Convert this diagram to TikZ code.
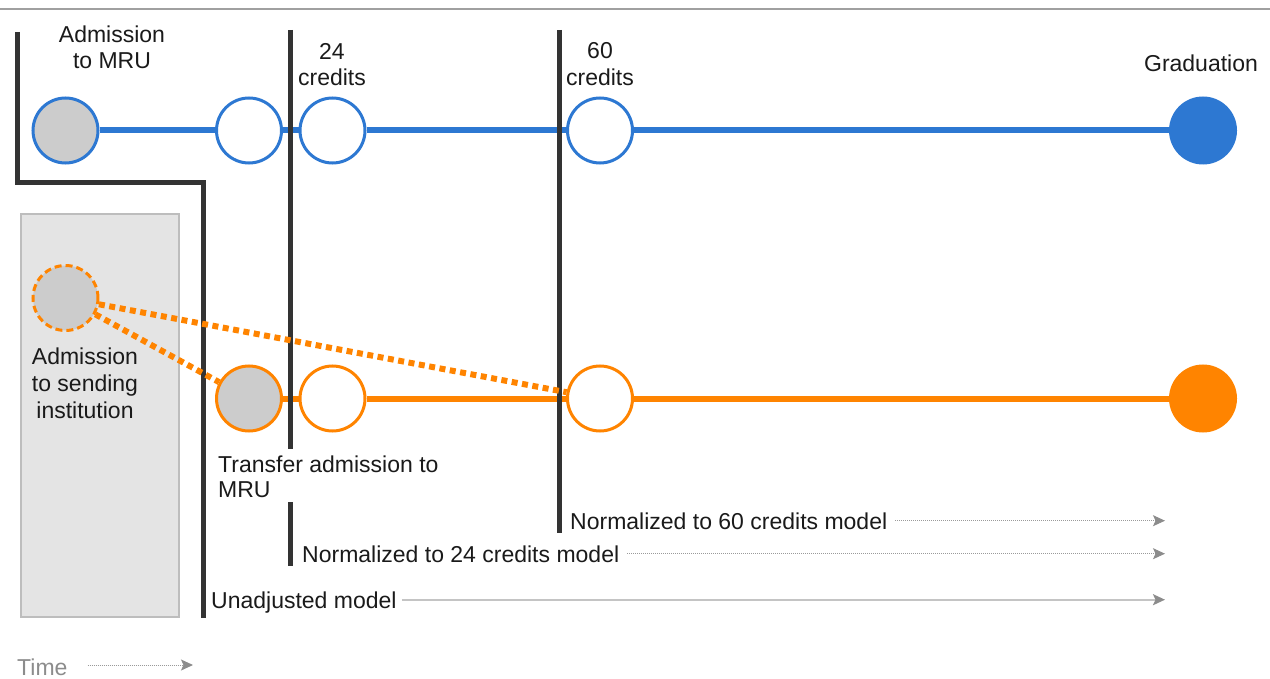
\documentclass[tikz,border=0pt]{standalone}
\usepackage{fontspec}
\setmainfont{Liberation Sans}
\usetikzlibrary{arrows.meta}
\definecolor{mblue}{HTML}{2D78D2}
\definecolor{morange}{HTML}{FF8400}
\definecolor{cgray}{HTML}{CCCCCC}
\definecolor{boxgray}{HTML}{E4E4E4}
\definecolor{boxedge}{HTML}{BDBDBD}
\definecolor{dark}{HTML}{333333}
\definecolor{txt}{HTML}{1A1A1A}
\definecolor{arrgray}{HTML}{8C8C8C}
\definecolor{dotgray}{HTML}{9A9A9A}
\definecolor{solgray}{HTML}{C4C4C4}
\definecolor{topline}{HTML}{A0A0A0}
\begin{document}
\begin{tikzpicture}[x=1pt,y=-1pt,
  lbl/.style={font=\fontsize{23}{26}\selectfont, text=txt, inner sep=0pt},
  circ/.style={circle, minimum size=65pt, inner sep=0pt, line width=3pt},
  bcirc/.style={circ, draw=mblue, fill=white},
  ocirc/.style={circ, draw=morange, fill=white},
  bline/.style={draw=mblue, line width=6pt},
  oline/.style={draw=morange, line width=6pt},
  odots/.style={draw=morange, line width=6pt, dash pattern=on 6pt off 4.5pt},
  wall/.style={draw=dark, line width=5pt, line join=miter},
  tip/.style={-{Stealth[length=12pt,width=11pt,inset=2.5pt,color=arrgray]}},
  dotarrow/.style={tip, draw=dotgray, line width=1pt, dash pattern=on 1pt off 1pt},
  solarrow/.style={tip, draw=solgray, line width=2pt}]
\useasboundingbox (0,0) rectangle (1270,679);
% top rule
\draw[topline, line width=1.5pt] (0,9) -- (1270,9);
% sending institution box
\draw[fill=boxgray, draw=boxedge, line width=2pt] (21,214) rectangle (179,617);
% blue track nodes
\node[circ, draw=mblue, fill=cgray] (b0) at (65.5,130.5) {};
\node[bcirc] (b1) at (249,130.5) {};
\node[bcirc] (b2) at (332.5,130.5) {};
\node[bcirc] (b60) at (600,130.5) {};
\node[circ, draw=mblue, fill=mblue] (bg) at (1203,130.5) {};
% orange track nodes
\node[circ, draw=morange, fill=cgray, dash pattern=on 7pt off 4pt] (o0) at (65.5,298) {};
\node[circ, draw=morange, fill=cgray] (o1) at (249,398.5) {};
\node[ocirc] (o2) at (332.5,398.5) {};
\node[ocirc] (o60) at (600,398.5) {};
\node[circ, draw=morange, fill=morange] (og) at (1203,398.5) {};
% tracks
\draw[bline] (b0) -- (b1);
\draw[bline] (b1) -- (b2);
\draw[bline] (b2) -- (b60);
\draw[bline] (b60) -- (bg);
\draw[oline] (o1) -- (o2);
\draw[oline] (o2) -- (o60);
\draw[oline] (o60) -- (og);
% walls
\draw[wall] (17.5,32) |- (203,182.5) -- (203,618);
\draw[wall] (290.5,30) -- (290.5,449);
\draw[wall] (290.5,502) -- (290.5,566);
\draw[wall] (559.5,30) -- (559.5,533);
% dotted transfer links
\draw[odots] (o0) -- (o60);
\draw[odots] (o0) -- (o1);
% labels
\node[lbl, anchor=base] (t1) at (112,43) {Admission};
\node[lbl, anchor=base] (t2) at (112,69) {to MRU};
\node[lbl, anchor=base] (t3) at (332,60) {24};
\node[lbl, anchor=base] (t4) at (332,86) {credits};
\node[lbl, anchor=base] (t5) at (600,59) {60};
\node[lbl, anchor=base] (t6) at (600,86) {credits};
\node[lbl, anchor=base] (t7) at (1201,72) {Graduation};
\node[lbl, anchor=base] (t8) at (85,364) {Admission};
\node[lbl, anchor=base] (t9) at (85,391) {to sending};
\node[lbl, anchor=base] (t10) at (85,418) {institution};
\node[lbl, anchor=base west] (t11) at (218,472) {Transfer admission to};
\node[lbl, anchor=base west] (t12) at (218,497) {MRU};
\node[lbl, anchor=base west] (n60) at (570,529) {Normalized to 60 credits model};
\node[lbl, anchor=base west] (n24) at (302,562) {Normalized to 24 credits model};
\node[lbl, anchor=base west] (nun) at (211,608) {Unadjusted model};
\node[lbl, anchor=base west, text=arrgray] (ntime) at (17,675) {Time};
% model arrows
\coordinate (eend) at (1165,0);
\coordinate (tend) at (193,0);
\coordinate (s60) at ([shift={(8pt,8.3pt)}]n60.base east);
\coordinate (s24) at ([shift={(8pt,8.3pt)}]n24.base east);
\coordinate (sun) at ([shift={(5pt,8.3pt)}]nun.base east);
\coordinate (stime) at ([shift={(20pt,10pt)}]ntime.base east);
\draw[dotarrow] (s60) -- (s60 -| eend);
\draw[dotarrow] (s24) -- (s24 -| eend);
\draw[solarrow] (sun) -- (sun -| eend);
\draw[dotarrow] (stime) -- (stime -| tend);
\end{tikzpicture}
\end{document}
